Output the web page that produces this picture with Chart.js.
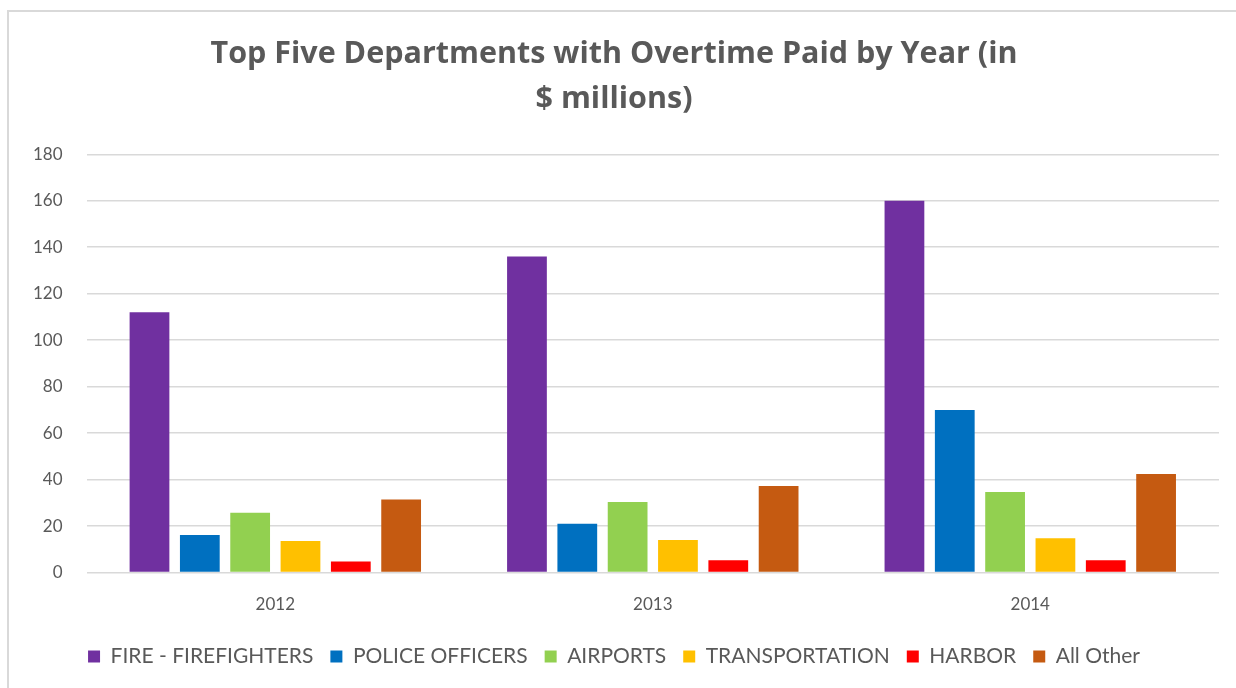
<!DOCTYPE html>
<html>
<head>
<meta charset="utf-8">
<script src="https://cdn.jsdelivr.net/npm/chart.js@4"></script>
<style>
  html, body { margin: 0; padding: 0; background: #fff; }
  #frame {
    position: absolute;
    left: 7px;
    top: 10px;
    width: 1227px;
    height: 678px;
    border-top: 2px solid #d9d9d9;
    border-left: 2px solid #d9d9d9;
  }
  #wrap { position: absolute; left: 0; top: 0; width: 1227px; height: 676px; }
</style>
</head>
<body>
<div id="frame"><div id="wrap"><canvas id="chart"></canvas></div></div>
<script>
// Data
const years = ["2012", "2013", "2014"];
const fireValues = [112, 136, 160];
const policeValues = [16.2, 21, 70];
const airportValues = [25.7, 30.4, 34.7];
const transportValues = [13.6, 14, 14.8];
const harborValues = [4.8, 5.3, 5.3];
const otherValues = [31.5, 37.3, 42.4];
const seriesNames = ["FIRE - FIREFIGHTERS", "POLICE OFFICERS", "AIRPORTS", "TRANSPORTATION", "HARBOR", "All Other"];
const seriesColors = ["#7030A0", "#0070C0", "#92D050", "#FFC000", "#FF0000", "#C55A11"];

const allValues = [fireValues, policeValues, airportValues, transportValues, harborValues, otherValues];
const textColor = "#595959";
const fontFamily = "Lato, 'Open Sans', 'Liberation Sans', sans-serif";

const datasets = allValues.map((vals, i) => ({
  label: seriesNames[i],
  data: vals,
  backgroundColor: seriesColors[i],
  borderColor: seriesColors[i],
  borderWidth: 0,
  categoryPercentage: 0.8,
  barPercentage: 0.79,
}));

new Chart(document.getElementById("chart"), {
  type: "bar",
  data: { labels: years, datasets: datasets },
  options: {
    responsive: true,
    maintainAspectRatio: false,
    animation: false,
    layout: { padding: { left: 0, right: 17, top: 0, bottom: 11 } },
    plugins: {
      title: {
        display: true,
        text: ["Top Five Departments with Overtime Paid by Year (in", "$ millions)"],
        color: textColor,
        font: { family: "'Open Sans', Lato, sans-serif", size: 30.5, weight: "bold", lineHeight: 1.48 },
        padding: { top: 20, bottom: 32 },
      },
      legend: {
        position: "bottom",
        labels: {
          color: textColor,
          font: { family: fontFamily, size: 21 },
          boxWidth: 12,
          boxHeight: 12,
          padding: 17,
        },
      },
      tooltip: { enabled: false },
    },
    scales: {
      x: {
        grid: { display: false },
        border: { display: false },
        ticks: { color: textColor, font: { family: fontFamily, size: 17 }, padding: 14 },
      },
      y: {
        min: 0,
        max: 180,
        ticks: { stepSize: 20, color: textColor, font: { family: fontFamily, size: 17 }, padding: 24 },
        grid: { color: "#d9d9d9", lineWidth: 1.5, drawTicks: false },
        border: { display: false },
      },
    },
  },
});
</script>
</body>
</html>
